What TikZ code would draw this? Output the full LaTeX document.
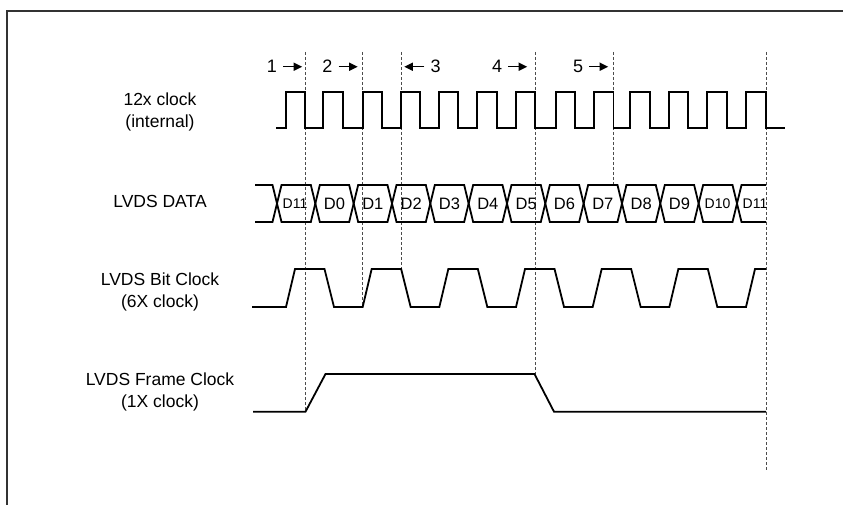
\documentclass[tikz,border=0pt]{standalone}
\usepackage{fontspec}
\setmainfont{Liberation Sans}
\usetikzlibrary{arrows.meta}
\tikzset{wave/.style={line width=1.8pt, line join=miter},
  guide/.style={line width=0.7pt, dash pattern=on 3pt off 2pt, black!70},
  sig/.style={font=\fontsize{17.5}{22}\selectfont, align=center},
  bitlbl/.style={font=\fontsize{16.5}{18}\selectfont, inner sep=0pt},
  smallbit/.style={font=\fontsize{14}{16}\selectfont, inner sep=0pt},
  num/.style={font=\fontsize{18}{20}\selectfont, inner sep=0pt},
  numarrow/.style={line width=1.5pt, -{Triangle[length=8.5pt,width=8pt]}}}

\begin{document}
\begin{tikzpicture}[x=1pt,y=-1pt]
    \useasboundingbox (0,0) rectangle (843,505);
    \draw[line width=2pt, black!80] (7,505) -- (7,11) -- (843,11);

    \draw[guide] (305.2,52) -- (305.2,411.7);
    \draw[guide] (362.7,52) -- (362.7,307);
    \draw[guide] (401,52) -- (401,269);
    \draw[guide] (535.2,52) -- (535.2,374);
    \draw[guide] (613.5,52) -- (613.5,185);
    \draw[guide] (766,52) -- (766,470);

    \node[sig] (clk) at (160,112.2) {12x clock\\(internal)};
    \node[sig] (data) at (160,201) {LVDS DATA};
    \node[sig] (bitclk) at (160,292.2) {LVDS Bit Clock\\(6X clock)};
    \node[sig] (frmclk) at (160,392.2) {LVDS Frame Clock\\(1X clock)};

    \node[num] (n1) at (272,66.7) {1};
    \node[num] (n2) at (327.5,66.7) {2};
    \node[num] (n3) at (435.5,66.7) {3};
    \node[num] (n4) at (497,66.7) {4};
    \node[num] (n5) at (578,66.7) {5};
    \draw[numarrow] ([xshift=6pt]n1.east) -- ++(19,0);
    \draw[numarrow] ([xshift=6pt]n2.east) -- ++(19,0);
    \draw[numarrow] ([xshift=-6pt]n3.west) -- ++(-20,0);
    \draw[numarrow] ([xshift=6pt]n4.east) -- ++(19,0);
    \draw[numarrow] ([xshift=6pt]n5.east) -- ++(19,0);

    \draw[wave] (276,128.3)
      foreach \r/\f in {286/305.2, 323.3/342.7, 362.7/381.7, 401/420, 439.3/458.3,
        477.3/496.7, 516/535.2, 556/575, 594/613.5, 630/650, 669/688.3,
        707.3/726.7, 746/766}
      { -- (\r,128.3) -- (\r,91.7) -- (\f,91.7) -- (\f,128.3) }
      -- (785,128.3);

    \draw[wave] (255,185)
      foreach \k in {0,2,...,10}
      { -- ({277+38.33*\k-4.5},185) -- ({277+38.33*\k+4.5},222)
        -- ({315.33+38.33*\k-4.5},222) -- ({315.33+38.33*\k+4.5},185) }
      -- (732.5,185) -- (741.5,222) -- (766,222);
    \draw[wave] (255,222)
      foreach \k in {0,2,...,10}
      { -- ({277+38.33*\k-4.5},222) -- ({277+38.33*\k+4.5},185)
        -- ({315.33+38.33*\k-4.5},185) -- ({315.33+38.33*\k+4.5},222) }
      -- (732.5,222) -- (741.5,185) -- (766,185);

    \node[smallbit] (d11a) at (295,203.5) {D11};
    \foreach \lbl [count=\i from 1] in {0,...,9}
      \node[bitlbl] (d\lbl) at ({296.17+38.33*\i},203.5) {D\lbl};
    \node[smallbit] (d10) at (717.5,203.5) {D10};
    \node[smallbit] (d11b) at (755,203.5) {D11};

    \draw[wave] (252,307)
      foreach \k in {0,...,5}
      { -- ({286+76.67*\k},307) -- ({295+76.67*\k},269)
        -- ({324.5+76.67*\k},269) -- ({334+76.67*\k},307) }
      -- (746,307) -- (755,269) -- (766,269);

    \draw[wave] (253,411.7) -- (305.5,411.7) -- (325.5,374) -- (534.5,374)
      -- (554,411.7) -- (766,411.7);
\end{tikzpicture}
\end{document}
